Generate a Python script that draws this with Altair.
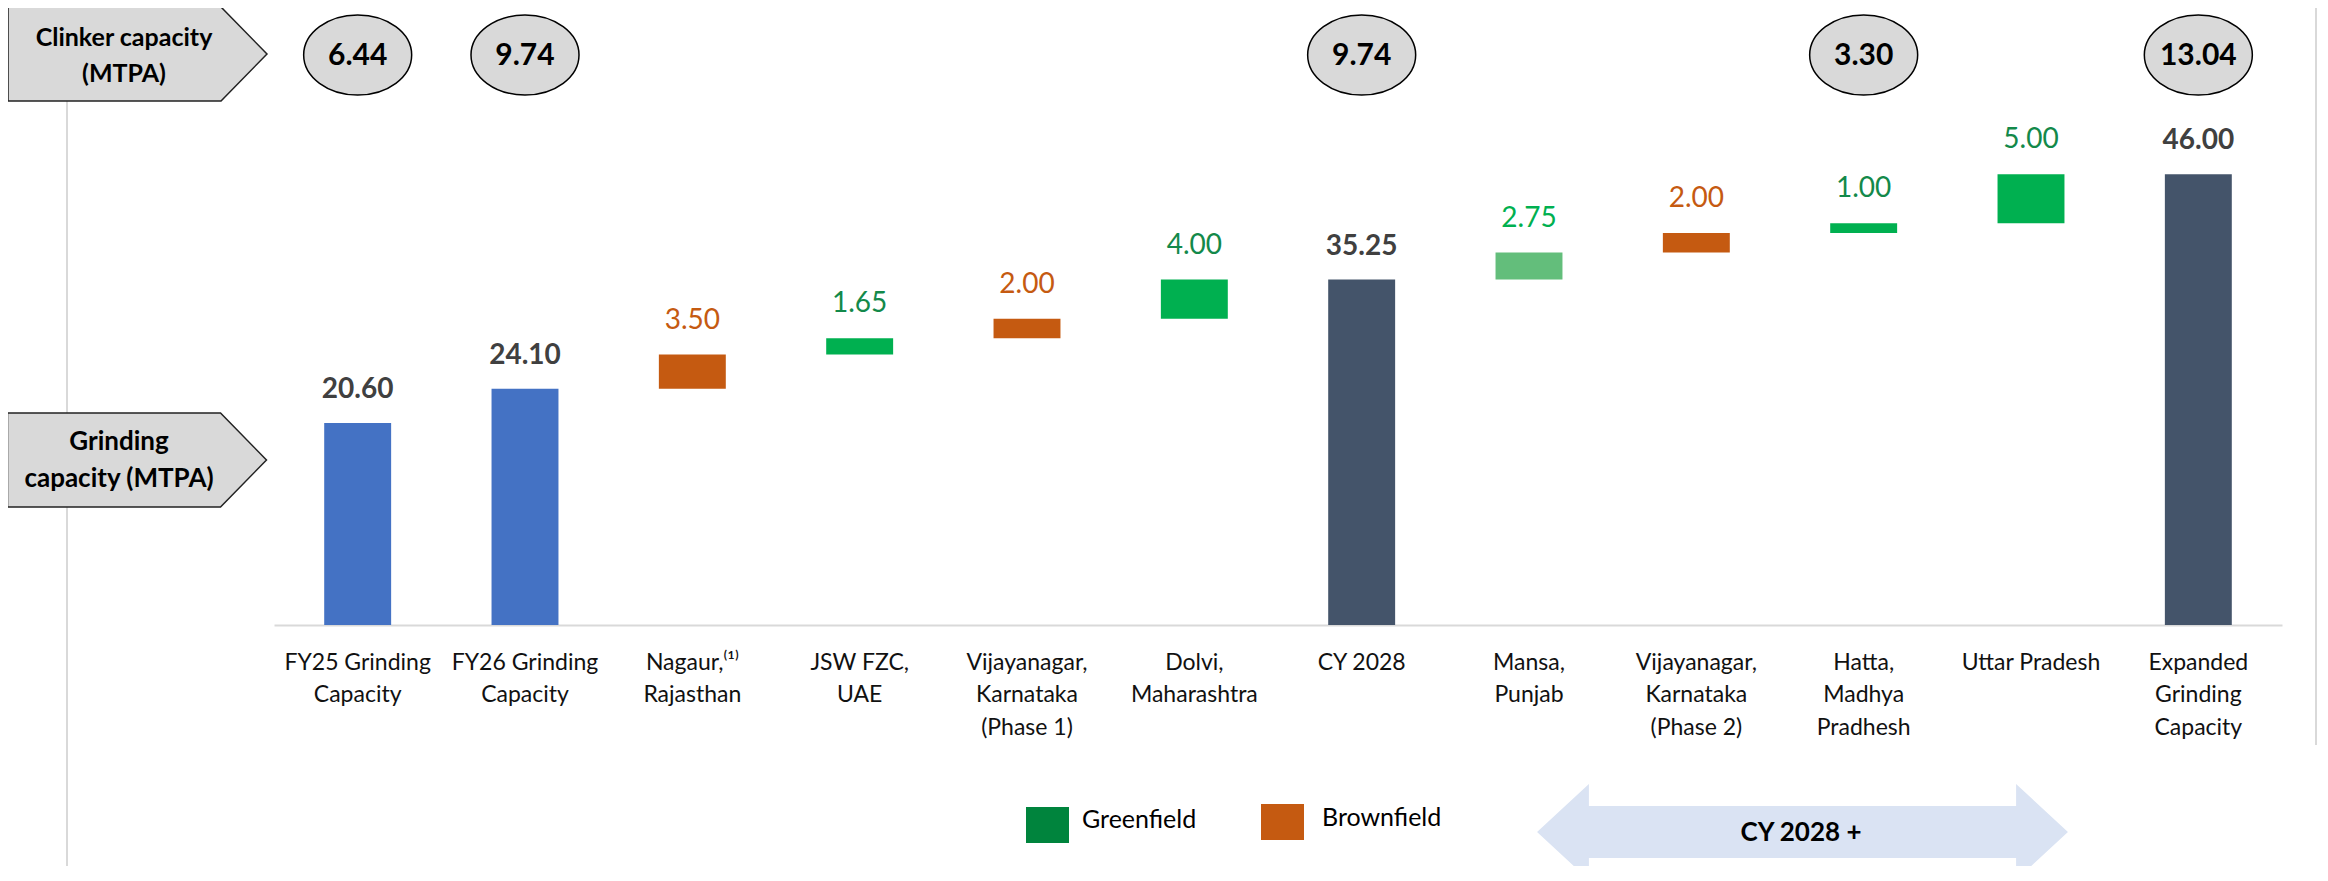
import altair as alt
import pandas as pd

# ---------------- data ----------------
categories = [
    "FY25 Grinding|Capacity",
    "FY26 Grinding|Capacity",
    "Nagaur,⁽¹⁾|Rajasthan",
    "JSW FZC,|UAE",
    "Vijayanagar,|Karnataka|(Phase 1)",
    "Dolvi,|Maharashtra",
    "CY 2028",
    "Mansa,|Punjab",
    "Vijayanagar,|Karnataka|(Phase 2)",
    "Hatta,|Madhya|Pradhesh",
    "Uttar Pradesh",
    "Expanded|Grinding|Capacity",
]
values = [20.60, 24.10, 3.50, 1.65, 2.00, 4.00, 35.25, 2.75, 2.00, 1.00, 5.00, 46.00]
bar_types = ["FY", "FY", "Brownfield", "Greenfield", "Brownfield", "Greenfield",
             "Total", "Greenfield (light)", "Brownfield", "Greenfield", "Greenfield", "Total"]

clinker_categories = [categories[0], categories[1], categories[6], categories[9], categories[11]]
clinker_values = [6.44, 9.74, 9.74, 3.30, 13.04]

legend_labels = ["Greenfield", "Brownfield"]
period_label = "CY 2028 +"
clinker_title = "Clinker capacity\n(MTPA)"
grinding_title = "Grinding\ncapacity (MTPA)"

# ---------------- styles ----------------
FONT = "Lato"
type_domain = ["FY", "Total", "Brownfield", "Greenfield", "Greenfield (light)"]
bar_colors = ["#4472C4", "#44546A", "#C55A11", "#00B050", "#63BE7B"]
label_colors = ["#404040", "#404040", "#C55A11", "#13894A", "#00B050"]

rows = []
running = 0.0
for c, v, t in zip(categories, values, bar_types):
    if t in ("FY", "Total"):
        start, end = 0.0, v
        running = v
    else:
        start, end = running, running + v
        running = end
    rows.append(dict(cat=c, value=v, type=t, start=start, end=end,
                     total=t in ("FY", "Total")))
df = pd.DataFrame(rows)
clinker_df = pd.DataFrame({"cat": clinker_categories, "value": clinker_values})
one = pd.DataFrame({"k": [0]})

x_enc = alt.X(
    "cat:N", sort=categories,
    scale=alt.Scale(paddingInner=0.6, paddingOuter=0.3),
    axis=alt.Axis(title=None, labelExpr="split(datum.value, '|')", labelAngle=0,
                  ticks=False, labelPadding=26, labelFontSize=23, labelLineHeight=32.5,
                  labelColor="#111111", labelLimit=0, labelOverlap=False,
                  labelBaseline="top", labelFont=FONT,
                  domainColor="#D9D9D9", domainWidth=2, grid=False),
)
y_scale = alt.Scale(domain=[0, 60])

bars = alt.Chart(df).mark_bar().encode(
    x=x_enc,
    y=alt.Y("start:Q", scale=y_scale, axis=None),
    y2="end:Q",
    color=alt.Color("type:N", scale=alt.Scale(domain=type_domain, range=bar_colors), legend=None),
)

total_labels = alt.Chart(df).transform_filter("datum.total").mark_text(
    font=FONT, fontSize=28, fontWeight="bold", color="#404040", dy=-33, baseline="middle"
).encode(x=x_enc, y=alt.Y("end:Q", scale=y_scale, axis=None),
         text=alt.Text("value:Q", format=".2f"))

inc_labels = alt.Chart(df).transform_filter("!datum.total").mark_text(
    font=FONT, fontSize=28, dy=-34, baseline="middle"
).encode(x=x_enc, y=alt.Y("end:Q", scale=y_scale, axis=None),
         text=alt.Text("value:Q", format=".2f"),
         color=alt.Color("type:N", scale=alt.Scale(domain=type_domain, range=label_colors), legend=None))

ellipse_path = ("M -1.35 0 C -1.35 -0.5523 -0.7456 -1 0 -1 C 0.7456 -1 1.35 -0.5523 1.35 0 "
                "C 1.35 0.5523 0.7456 1 0 1 C -0.7456 1 -1.35 0.5523 -1.35 0 Z")
circles = alt.Chart(clinker_df).mark_point(
    shape=ellipse_path, size=6400, filled=True, fill="#D9D9D9", stroke="#000000",
    strokeWidth=1.5, opacity=1
).encode(x=x_enc, y=alt.value(18))
circle_text = alt.Chart(clinker_df).mark_text(
    font=FONT, fontSize=30, fontWeight="bold", color="#000000", baseline="middle"
).encode(x=x_enc, y=alt.value(19), text=alt.Text("value:Q", format=".2f"))

box_path = "M -2.755 -1 L 1.777 -1 L 2.755 0 L 1.777 1 L -2.755 1 Z"
clinker_box = alt.Chart(one).mark_point(
    shape=box_path, size=8836, filled=True, fill="#D9D9D9", stroke="#222222",
    strokeWidth=1.5, opacity=1
).encode(x=alt.value(-136.5), y=alt.value(17))
grinding_box = alt.Chart(one).mark_point(
    shape=box_path, size=8836, filled=True, fill="#D9D9D9", stroke="#222222",
    strokeWidth=1.5, opacity=1
).encode(x=alt.value(-137), y=alt.value(423))
clinker_txt = alt.Chart(one).mark_text(
    font=FONT, fontSize=25, fontWeight="bold", color="#000000", lineBreak="\n",
    lineHeight=36, baseline="middle", align="center"
).encode(x=alt.value(-150), y=alt.value(1), text=alt.value(clinker_title))
grinding_txt = alt.Chart(one).mark_text(
    font=FONT, fontSize=26, fontWeight="bold", color="#000000", lineBreak="\n",
    lineHeight=37, baseline="middle", align="center"
).encode(x=alt.value(-155), y=alt.value(405), text=alt.value(grinding_title))

left_rule = alt.Chart(one).mark_rule(color="#D9D9D9", strokeWidth=2).encode(
    x=alt.value(-207), y=alt.value(-37), y2=alt.value(840))
right_rule = alt.Chart(one).mark_rule(color="#D9D9D9", strokeWidth=2).encode(
    x=alt.value(2042), y=alt.value(-37), y2=alt.value(708))

# legend
leg_g = alt.Chart(one).mark_rect(color="#00843D").encode(
    x=alt.value(752), x2=alt.value(795), y=alt.value(770), y2=alt.value(806))
leg_b = alt.Chart(one).mark_rect(color="#C55A11").encode(
    x=alt.value(987), x2=alt.value(1030), y=alt.value(767), y2=alt.value(803))
leg_g_t = alt.Chart(one).mark_text(font=FONT, fontSize=25, align="left", baseline="middle",
                                   color="#000000").encode(
    x=alt.value(808), y=alt.value(783), text=alt.value(legend_labels[0]))
leg_b_t = alt.Chart(one).mark_text(font=FONT, fontSize=25, align="left", baseline="middle",
                                   color="#000000").encode(
    x=alt.value(1048), y=alt.value(781), text=alt.value(legend_labels[1]))

arrow_path = ("M -5.53 0 L -4.45 -1 L -4.45 -0.54 L 4.45 -0.54 L 4.45 -1 L 5.53 0 "
              "L 4.45 1 L 4.45 0.54 L -4.45 0.54 L -4.45 1 Z")
period_arrow = alt.Chart(one).mark_point(
    shape=arrow_path, size=9216, filled=True, fill="#DAE3F3", strokeWidth=0, opacity=1
).encode(x=alt.value(1528.5), y=alt.value(795))
period_txt = alt.Chart(one).mark_text(
    font=FONT, fontSize=26, fontWeight="bold", color="#000000", baseline="middle"
).encode(x=alt.value(1527), y=alt.value(796), text=alt.value(period_label))

chart = alt.layer(
    left_rule, right_rule, bars, total_labels, inc_labels, circles, circle_text,
    clinker_box, grinding_box, clinker_txt, grinding_txt,
    leg_g, leg_b, leg_g_t, leg_b_t, period_arrow, period_txt,
).resolve_scale(color="independent").properties(
    width=2008, height=588,
    autosize=alt.AutoSizeParams(type="none"),
    padding={"left": 266, "top": 29, "right": 36, "bottom": 241},
).configure(font=FONT).configure_view(stroke=None, strokeWidth=0)

chart.save("out.html", embed_options={"renderer": "svg", "actions": False})
